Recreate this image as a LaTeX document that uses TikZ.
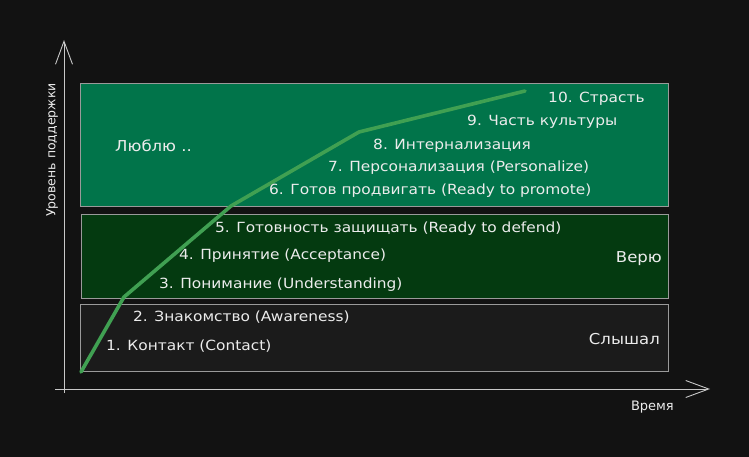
\documentclass[tikz,border=0pt]{standalone}
\usepackage{fontspec}
\setmainfont{DejaVu Sans}
\newfontfamily\widefont[FakeStretch=1.1]{DejaVu Sans}
\usetikzlibrary{arrows.meta}
\definecolor{bgc}{HTML}{121212}
\definecolor{topband}{HTML}{01744A}
\definecolor{midband}{HTML}{043A10}
\definecolor{lowband}{HTML}{1B1B1B}
\definecolor{bandline}{HTML}{9A9A9A}
\definecolor{axisc}{HTML}{C8C8C8}
\definecolor{curvec}{HTML}{40A052}
\definecolor{txtc}{HTML}{ECECEC}
\begin{document}
\begin{tikzpicture}[x=1pt,y=-1pt,
  band/.style={draw=bandline,line width=0.9pt,inner sep=0pt,anchor=north west},
  lbl/.style={anchor=west,inner sep=0pt,text=txtc,font=\widefont\fontsize{14}{16}\selectfont},
  biglbl/.style={lbl,font=\widefont\fontsize{15}{17}\selectfont},
  axlbl/.style={inner sep=0pt,text=txtc,font=\fontsize{13}{15}\selectfont},
  axis/.style={draw=axisc,line width=0.9pt},
  axarrow/.style={axis,-{Straight Barb[length=23pt,width=17pt,line width=0.9pt]}},
  curve/.style={draw=curvec,line width=3.6pt,line join=round,line cap=round}]
\fill[bgc] (0,0) rectangle (749,457);
\useasboundingbox (0,0) rectangle (749,457);
% bands
\node[band,fill=topband,minimum width=588pt,minimum height=123pt] (top) at (80,83) {};
\node[band,fill=midband,minimum width=587pt,minimum height=84pt] (mid) at (81,214) {};
\node[band,fill=lowband,minimum width=588pt,minimum height=67pt] (low) at (80,304) {};
% axes
\coordinate (ybot) at (64,393);
\coordinate (ytop) at (64,40);
\coordinate (xl) at (55,389);
\coordinate (xr) at (710,389);
\draw[axarrow] (ybot) -- (ytop);
\draw[axarrow] (xl) -- (xr);
% curve
\coordinate (p1) at (81,372);
\coordinate (p2) at (124,297);
\coordinate (p3) at (231,206);
\coordinate (p4) at (359,132);
\coordinate (p5) at (525,91);
\draw[curve] (p1) -- (p2) -- (p3) -- (p4) -- (p5);
% labels
\node[biglbl] (love) at (115,146) {Люблю ..};
\node[lbl] (s10) at (548,99) {10. Страсть};
\node[lbl] (s9) at (467,122) {9. Часть культуры};
\node[lbl] (s8) at (373,146) {8. Интернализация};
\node[lbl] (s7) at (328,168) {7. Персонализация (Personalize)};
\node[lbl] (s6) at (269,191) {6. Готов продвигать (Ready to promote)};
\node[lbl] (s5) at (215,229) {5. Готовность защищать (Ready to defend)};
\node[lbl] (s4) at (179,256) {4. Принятие (Acceptance)};
\node[lbl] (s3) at (159,285) {3. Понимание (Understanding)};
\node[lbl] (s2) at (133,317) {2. Знакомство (Awareness)};
\node[lbl] (s1) at (106,346) {1. Контакт (Contact)};
\node[biglbl,anchor=east] (believe) at (662,259) {Верю};
\node[biglbl,anchor=east] (heard) at (660,339) {Слышал};
\node[axlbl,anchor=east] (time) at (674,407) {Время};
\node[axlbl,anchor=center,rotate=90,font=\fontsize{12.5}{14}\selectfont] (support) at (52,150) {Уровень поддержки};
\end{tikzpicture}
\end{document}
